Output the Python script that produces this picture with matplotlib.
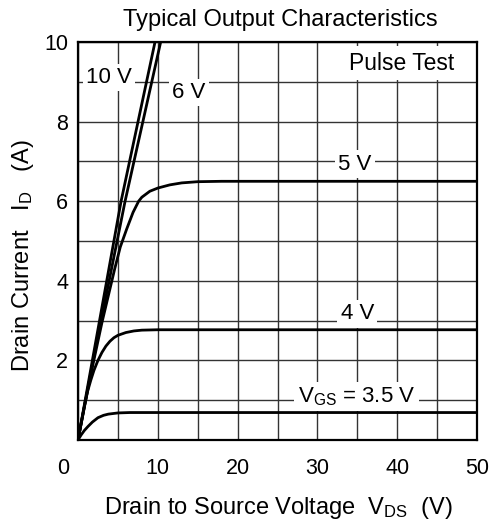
import numpy as np
import matplotlib
matplotlib.use('Agg')
import matplotlib.pyplot as plt
from matplotlib.transforms import ScaledTranslation

plt.rcParams['font.family'] = ['Liberation Sans', 'DejaVu Sans']
plt.rcParams['mathtext.fontset'] = 'custom'
plt.rcParams['mathtext.rm'] = 'Liberation Sans'
plt.rcParams['mathtext.it'] = 'Liberation Sans:italic'

# curves: VDS (V), ID (A)
vds_10v = [0, 5.4, 9.65, 10.3]
id_10v = [0, 6.0, 10.0, 10.6]

vds_6v = [0, 2.0, 5.9, 10.36, 11.0]
id_6v = [0, 2.1, 6.0, 10.0, 10.55]

vds_5v = [0, 1.5, 3.0, 4.6, 5.3, 6.1, 6.9, 7.6, 8.0, 9.0, 10.0, 11.5, 13.0, 15.0, 18.0, 50.0]
id_5v = [0, 1.55, 2.95, 4.3, 4.85, 5.3, 5.72, 6.0, 6.1, 6.25, 6.33, 6.41, 6.46, 6.49, 6.5, 6.5]

vds_4v = [0, 0.8, 1.2, 1.6, 2.0, 2.5, 3.0, 3.5, 4.0, 4.5, 5.0, 6.0, 7.0, 8.0, 10.0, 50.0]
id_4v = [0, 0.85, 1.22, 1.5, 1.75, 2.0, 2.2, 2.36, 2.48, 2.57, 2.63, 2.7, 2.74, 2.76, 2.77, 2.77]

vds_35v = [0, 0.4, 0.8, 1.25, 1.8, 2.5, 3.2, 3.8, 5.0, 6.5, 50.0]
id_35v = [0, 0.13, 0.24, 0.34, 0.45, 0.56, 0.62, 0.65, 0.68, 0.69, 0.69]

curve_labels = ['10 V', '6 V', '5 V', '4 V', '$\\mathrm{V_{GS}}$ = 3.5 V']
label_pos = [(3.9, 9.11), (13.85, 8.73), (34.7, 6.93), (35.0, 3.17), (34.9, 1.1)]

x_major = [0, 10, 20, 30, 40, 50]
x_minor = [5, 15, 25, 35, 45]
y_major = [2, 4, 6, 8, 10]
y_minor = [1, 3, 5, 7, 9]

fig = plt.figure(figsize=(4.92, 5.25), dpi=100)
ax = fig.add_axes([78 / 492, 85 / 525, 399 / 492, 398 / 525])

for v, i in [(vds_10v, id_10v), (vds_6v, id_6v), (vds_5v, id_5v),
             (vds_4v, id_4v), (vds_35v, id_35v)]:
    ax.plot(v, i, color='black', lw=2.0, zorder=4, solid_capstyle='round')

for txt, (x, y) in zip(curve_labels, label_pos):
    ax.text(x, y, txt, fontsize=16, ha='center', va='center', zorder=3,
            bbox=dict(fc='white', ec='none', boxstyle='square,pad=0.15'))

ax.text(40.5, 9.47, 'Pulse Test', fontsize=16.5, ha='center', va='center', zorder=3,
        bbox=dict(fc='white', ec='none', boxstyle='square,pad=0.25'))

ax.set_xlim(0, 50)
ax.set_ylim(0, 10)
ax.set_xticks(x_major)
ax.set_xticks(x_minor, minor=True)
ax.set_yticks(y_major)
ax.set_yticks(y_minor, minor=True)
ax.tick_params(which='both', length=0, labelsize=15.5)
ax.tick_params(axis='x', pad=13)
ax.tick_params(axis='y', pad=7)
ax.set_axisbelow(True)
ax.grid(True, which='both', color='#333333', lw=1.0)
for s in ax.spines.values():
    s.set_linewidth(1.6)

# the "0" label sits left of the axis origin
lbl0 = ax.get_xticklabels()[0]
lbl0.set_transform(lbl0.get_transform() + ScaledTranslation(-0.15, 0, fig.dpi_scale_trans))

fig.text(280 / 492, 1 - 20 / 525, 'Typical Output Characteristics', fontsize=17,
         ha='center', va='center')
fig.text(278 / 492, 1 - 508 / 525, 'Drain to Source Voltage  $\\mathrm{V_{DS}}$  (V)',
         fontsize=17, ha='center', va='center')
fig.text(23 / 492, 1 - 256 / 525, 'Drain Current   $\\mathrm{I_D}$   (A)', fontsize=17,
         ha='center', va='center', rotation=90)

fig.savefig('out.png', dpi=100)
